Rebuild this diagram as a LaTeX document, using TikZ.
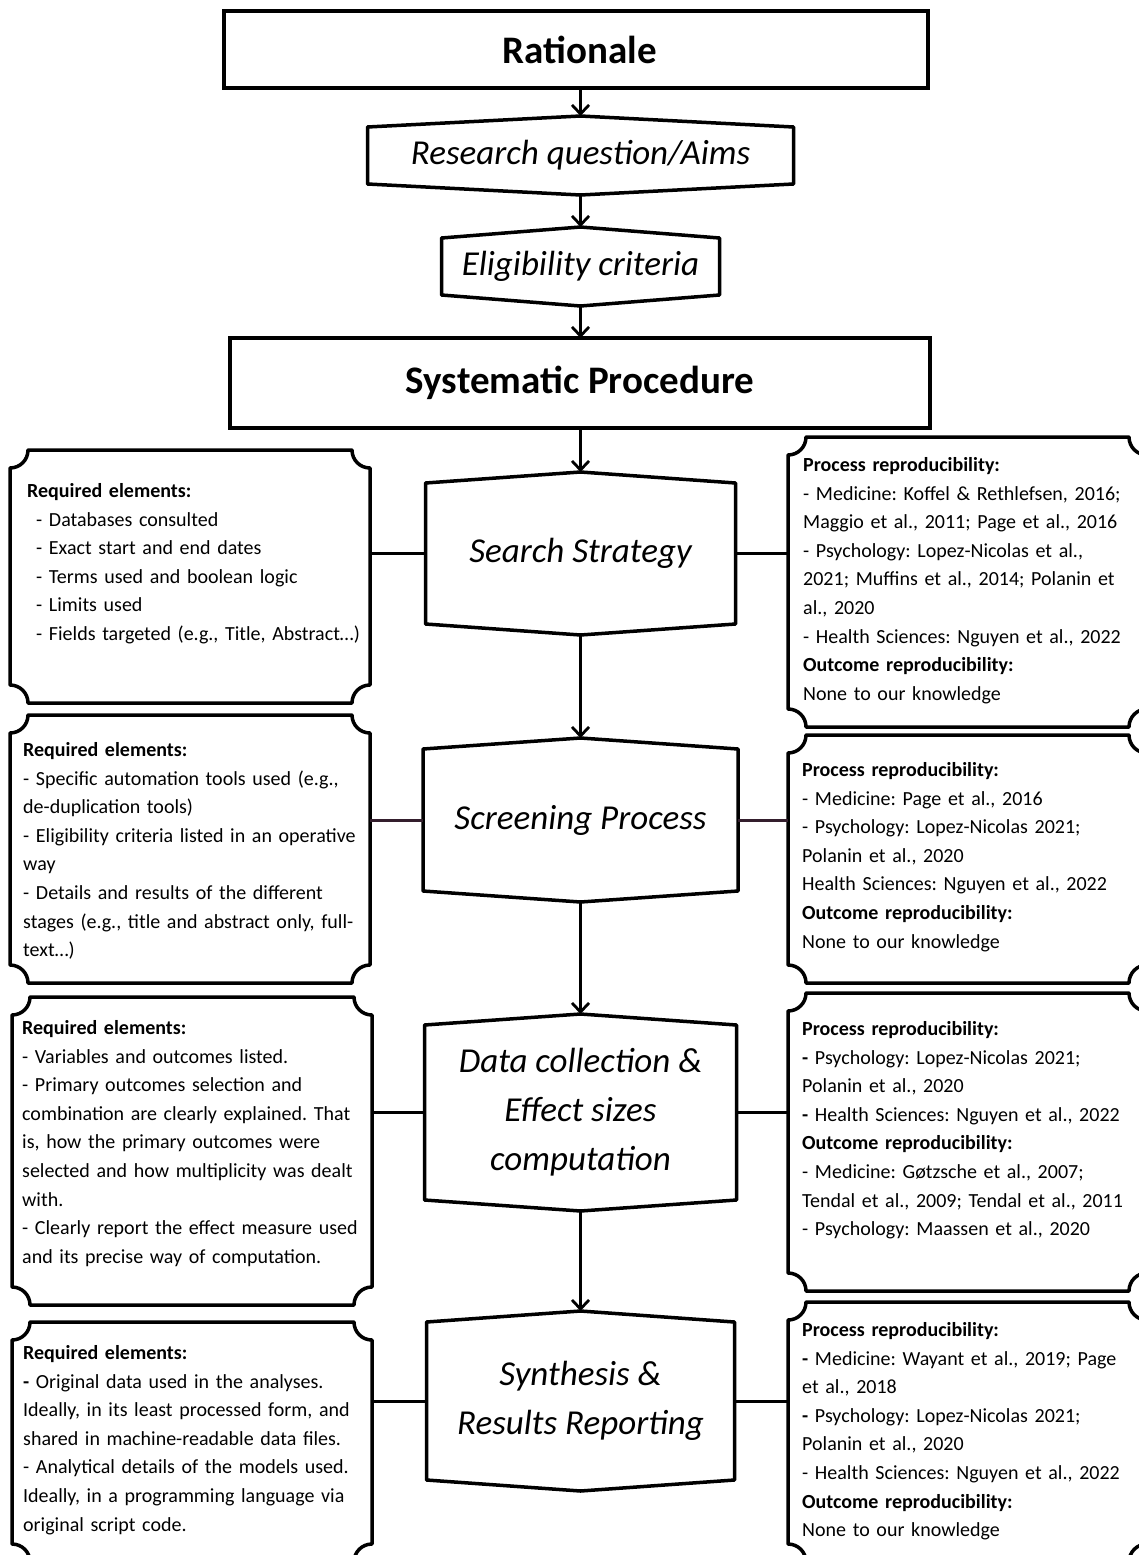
\documentclass[tikz,border=0pt]{standalone}
\usepackage{fontspec}
\setmainfont{Carlito}
\usetikzlibrary{arrows.meta, calc, positioning}
\definecolor{mybrown}{RGB}{52,30,45}

% outline with a point on top and bottom
\newcommand{\hexa}[1]{%
  \draw[outl] (#1.north west) -- ([yshift=11pt]#1.north) -- (#1.north east) -- (#1.south east) -- ([yshift=-11pt]#1.south) -- (#1.south west) -- cycle;
  \coordinate (#1-t) at ([yshift=11pt]#1.north);
  \coordinate (#1-b) at ([yshift=-11pt]#1.south);
}
% box with hollow corners
\newcommand{\plaque}[1]{%
  \draw[outl] ([xshift=18pt]#1.north west) -- ([xshift=-18pt]#1.north east)
    .. controls ([xshift=-18pt,yshift=-10pt]#1.north east) and ([xshift=-10pt,yshift=-18pt]#1.north east) .. ([yshift=-18pt]#1.north east)
    -- ([yshift=18pt]#1.south east)
    .. controls ([xshift=-10pt,yshift=18pt]#1.south east) and ([xshift=-18pt,yshift=10pt]#1.south east) .. ([xshift=-18pt]#1.south east)
    -- ([xshift=18pt]#1.south west)
    .. controls ([xshift=18pt,yshift=10pt]#1.south west) and ([xshift=10pt,yshift=18pt]#1.south west) .. ([yshift=18pt]#1.south west)
    -- ([yshift=-18pt]#1.north west)
    .. controls ([xshift=10pt,yshift=-18pt]#1.north west) and ([xshift=18pt,yshift=-10pt]#1.north west) .. ([xshift=18pt]#1.north west) -- cycle;
}
\newcommand{\ind}{\hspace*{9pt}}

\begin{document}
\frenchspacing
\begin{tikzpicture}[x=1pt, y=-1pt,
  outl/.style={line width=3.5pt, line join=round},
  frame/.style={inner sep=0pt, outer sep=0pt, anchor=north west},
  proc/.style={inner sep=0pt, outer sep=0pt, anchor=north, align=center, font=\fontsize{35}{49}\selectfont\itshape},
  title/.style={frame, draw, line width=3.5pt, font=\fontsize{39}{46}\selectfont\bfseries},
  txt/.style={anchor=base west, align=left, text width=345pt, inner sep=0pt, font=\fontsize{20}{28.6}\selectfont},
  arr/.style={line width=2.8pt, -{Straight Barb[length=9pt,width=17pt]}},
  conn/.style={line width=3pt}]

\path[use as bounding box, fill=white] (0,0) rectangle (1138,1555);

% main column
\node[title, minimum width=704pt, minimum height=77pt] (rat) at (224,11) {\hspace*{8pt}Rationale};
\node[proc, minimum width=426pt, minimum height=57pt] (rq) at (580.5,127) {Research question/Aims};
\node[proc, minimum width=278pt, minimum height=57pt] (elig) at (580.5,238) {Eligibility criteria};
\node[title, minimum width=700pt, minimum height=90pt] (sysp) at (230,338) {Systematic Procedure};
\node[proc, minimum width=310pt, minimum height=141pt] (search) at (580.5,483) {Search Strategy};
\node[proc, minimum width=315pt, minimum height=142pt] (screen) at (580.5,749) {Screening Process};
\node[proc, minimum width=312pt, minimum height=175pt] (datac) at (580.5,1025) {Data collection \&\\Effect sizes\\computation};
\node[proc, minimum width=308pt, minimum height=158pt] (synth) at (580.5,1322) {Synthesis \&\\Results Reporting};
\foreach \n in {rq, elig, search, screen, datac, synth} {\hexa{\n}}

\draw[arr] (rq-t |- rat.south) -- (rq-t);
\draw[arr] (rq-b) -- (elig-t);
\draw[arr] (elig-b) -- (elig-b |- sysp.north);
\draw[arr] (search-t |- sysp.south) -- (search-t);
\draw[arr] (search-b) -- (screen-t);
\draw[arr] (screen-b) -- (datac-t);
\draw[arr] (datac-b) -- (synth-t);

% left boxes
\node[frame, minimum width=360pt, minimum height=253pt] (lb1) at (10,450) {};
\node[frame, minimum width=360pt, minimum height=268pt] (lb2) at (10,715) {};
\node[frame, minimum width=360pt, minimum height=308pt] (lb3) at (12,997) {};
\node[frame, minimum width=360pt, minimum height=240pt] (lb4) at (12,1322) {};
% right boxes
\node[frame, minimum width=359pt, minimum height=290pt] (rb1) at (788,437) {};
\node[frame, minimum width=359pt, minimum height=248pt] (rb2) at (788,735) {};
\node[frame, minimum width=359pt, minimum height=298pt] (rb3) at (788,993) {};
\node[frame, minimum width=359pt, minimum height=260pt] (rb4) at (788,1302) {};
\foreach \n in {lb1, lb2, lb3, lb4, rb1, rb2, rb3, rb4} {\plaque{\n}}

\node[txt] (lb1t) at (27,497.5) {\textbf{Required elements:}\\
\ind- Databases consulted\\
\ind- Exact start and end dates\\
\ind- Terms used and boolean logic\\
\ind- Limits used\\
\ind- Fields targeted (e.g., Title, Abstract…)};
\node[txt] (lb2t) at (23,756.5) {\textbf{Required elements:}\\
- Specific automation tools used (e.g.,\\
de-duplication tools)\\
- Eligibility criteria listed in an operative\\
way\\
- Details and results of the different\\
stages (e.g., title and abstract only, full-\\
text…)};
\node[txt] (lb3t) at (22,1034.5) {\textbf{Required elements:}\\
- Variables and outcomes listed.\\
- Primary outcomes selection and\\
combination are clearly explained. That\\
is, how the primary outcomes were\\
selected and how multiplicity was dealt\\
with.\\
- Clearly report the effect measure used\\
and its precise way of computation.};
\node[txt] (lb4t) at (23,1359.5) {\textbf{Required elements:}\\
\textbf{-} Original data used in the analyses.\\
Ideally, in its least processed form, and\\
shared in machine-readable data files.\\
- Analytical details of the models used.\\
Ideally, in a programming language via\\
original script code.};

\node[txt] (rb1t) at (803,471.5) {\textbf{Process reproducibility:}\\
- Medicine: Koffel \& Rethlefsen, 2016;\\
Maggio et al., 2011; Page et al., 2016\\
- Psychology: Lopez-Nicolas et al.,\\
2021; Muffins et al., 2014; Polanin et\\
al., 2020\\
- Health Sciences: Nguyen et al., 2022\\
\textbf{Outcome reproducibility:}\\
None to our knowledge};
\node[txt] (rb2t) at (802,776.5) {\textbf{Process reproducibility:}\\
- Medicine: Page et al., 2016\\
- Psychology: Lopez-Nicolas 2021;\\
Polanin et al., 2020\\
Health Sciences: Nguyen et al., 2022\\
\textbf{Outcome reproducibility:}\\
None to our knowledge};
\node[txt] (rb3t) at (802,1035.5) {\textbf{Process reproducibility:}\\
\textbf{-} Psychology: Lopez-Nicolas 2021;\\
Polanin et al., 2020\\
\textbf{-} Health Sciences: Nguyen et al., 2022\\
\textbf{Outcome reproducibility:}\\
- Medicine: Gøtzsche et al., 2007;\\
Tendal et al., 2009; Tendal et al., 2011\\
- Psychology: Maassen et al., 2020};
\node[txt] (rb4t) at (802,1336.5) {\textbf{Process reproducibility:}\\
\textbf{-} Medicine: Wayant et al., 2019; Page\\
et al., 2018\\
\textbf{-} Psychology: Lopez-Nicolas 2021;\\
Polanin et al., 2020\\
- Health Sciences: Nguyen et al., 2022\\
\textbf{Outcome reproducibility:}\\
None to our knowledge};

% side links
\draw[conn] (search.west) -- (search.west -| lb1.east);
\draw[conn] (search.east) -- (search.east -| rb1.west);
\draw[conn, mybrown] (screen.west) -- (screen.west -| lb2.east);
\draw[conn, mybrown] (screen.east) -- (screen.east -| rb2.west);
\draw[conn] (datac.west) -- (datac.west -| lb3.east);
\draw[conn] (datac.east) -- (datac.east -| rb3.west);
\draw[conn] (synth.west) -- (synth.west -| lb4.east);
\draw[conn] (synth.east) -- (synth.east -| rb4.west);
\end{tikzpicture}
\end{document}
